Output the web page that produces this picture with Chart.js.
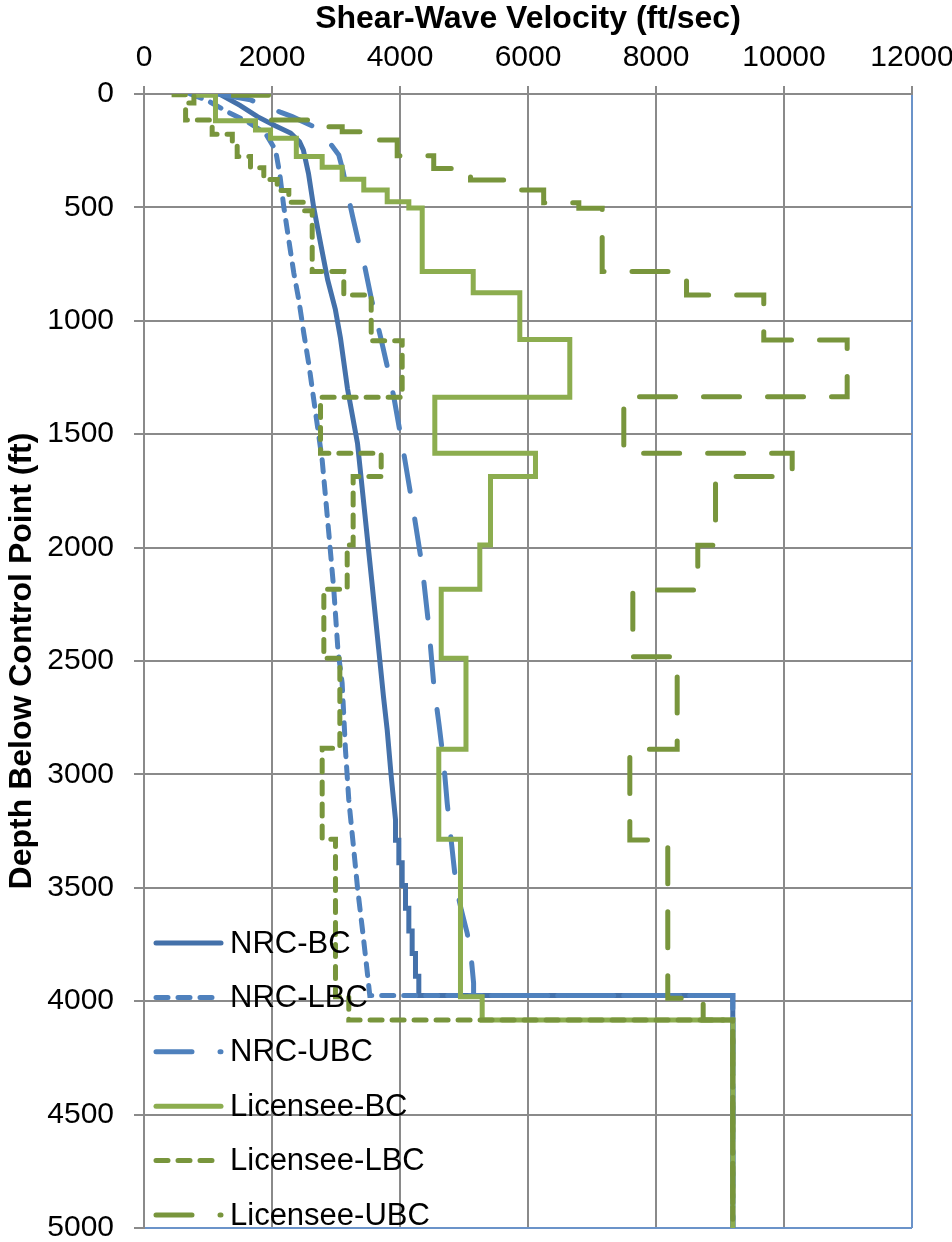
<!DOCTYPE html>
<html>
<head>
<meta charset="utf-8">
<script src="https://cdn.jsdelivr.net/npm/chart.js@4.4.1/dist/chart.umd.min.js"></script>
<style>
  html, body { margin: 0; padding: 0; background: #fff; overflow: hidden; }
  #chart { display: block; }
</style>
</head>
<body>
<canvas id="chart" width="952" height="1242"></canvas>
<script>
// ---- data (velocity in ft/sec, depth in ft) ----
const SERIES_NAMES = ['NRC-BC', 'NRC-LBC', 'NRC-UBC', 'Licensee-BC', 'Licensee-LBC', 'Licensee-UBC'];
const DEPTH_MAX = 5000;

// NRC profiles: continuous curves (velocity / depth pairs)
const nrcBcVel   = [1180, 1500, 1773, 2050, 2290, 2430, 2490, 2570, 2650, 2760, 2870, 2990, 3070, 3180, 3336, 3450, 3560, 3650, 3742, 3800, 3860, 3930, 3930, 3982, 3982, 4034, 4034, 4086, 4086, 4138, 4138, 4190, 4190, 4242, 4242, 4294, 4294, 9200, 9200];
const nrcBcDepth = [0, 50, 100, 140, 172, 210, 247, 350, 498, 660, 820, 950, 1076, 1300, 1540, 1850, 2150, 2400, 2658, 2804, 3000, 3201, 3290, 3290, 3390, 3390, 3490, 3490, 3590, 3590, 3690, 3690, 3790, 3790, 3890, 3890, 3975, 3975, 5000];

const nrcLbcVel   = [720, 1000, 1300, 1600, 1898, 2055, 2120, 2184, 2260, 2341, 2419, 2497, 2580, 2653, 2784, 2888, 2966, 3030, 3096, 3148, 3200, 3278, 3340, 3420, 3480, 3528, 9200, 9200];
const nrcLbcDepth = [0, 30, 78, 120, 173, 247, 350, 497, 640, 790, 908, 1055, 1200, 1349, 1614, 1937, 2187, 2450, 2598, 2892, 3113, 3333, 3510, 3700, 3850, 3975, 3975, 5000];

const nrcUbcVel   = [1150, 1664, 2130, 2316, 2653, 2888, 3044, 3110, 3175, 3260, 3356, 3434, 3550, 3695, 3800, 3903, 4059, 4216, 4347, 4450, 4528, 4610, 4684, 4738, 4816, 4880, 4960, 5050, 5110, 5150, 5150, 9200, 9200];
const nrcUbcDepth = [0, 26, 80, 100, 144, 210, 269, 340, 431, 540, 658, 739, 900, 1070, 1200, 1335, 1584, 1849, 2084, 2349, 2605, 2780, 2951, 3128, 3333, 3500, 3600, 3700, 3800, 3920, 3975, 3975, 5000];

// Licensee profiles: layered (top depth of each layer / layer velocity)
const licBcTop = [0, 5, 118, 159, 195, 276, 323, 376, 423, 475, 503, 783, 876, 1082, 1337, 1584, 1687, 1989, 2184, 2488, 2889, 3286, 3980, 4083];
const licBcVel = [840, 1117, 1742, 1977, 2380, 2784, 3096, 3434, 3800, 4138, 4347, 5144, 5872, 6653, 4544, 6117, 5414, 5247, 4644, 5031, 4606, 4945, 5284, 9200];

const licLbcTop = [0, 3, 40, 115, 178, 225, 276, 325, 377, 425, 477, 515, 783, 886, 1088, 1337, 1584, 1687, 1989, 2184, 2488, 2885, 3286, 3980, 4083];
const licLbcVel = [470, 780, 650, 1065, 1380, 1456, 1664, 1872, 2081, 2263, 2497, 2628, 3122, 3550, 4034, 2758, 3706, 3268, 3175, 2810, 3060, 2784, 2992, 3200, 9200];

const licUbcTop = [0, 5, 115, 144, 166, 203, 272, 328, 379, 423, 480, 504, 783, 886, 1085, 1335, 1584, 1687, 1990, 2187, 2481, 2889, 3289, 3987, 4083];
const licUbcVel = [1400, 1950, 2784, 3097, 3540, 3956, 4527, 5102, 5660, 6245, 6794, 7159, 8477, 9684, 10987, 7497, 10128, 8930, 8653, 7638, 8331, 7591, 8184, 8737, 9200];

// ---- styling ----
const FONT = "'Liberation Sans', Arial, sans-serif";
const GRID_GRAY = '#8a8a8a';
const FRAME_BLUE = '#6b93c9';
const NRC_DARK = '#4471aa';
const NRC_BLUE = '#4f81bd';
const LIC_LIGHT = '#8cad4f';
const LIC_OLIVE = '#78953c';

const SHORT_DASH = [12, 10];
const LONG_DASH = [36, 28];

function curvePoints(vels, depths) {
  return vels.map((v, i) => ({ x: v, y: depths[i] }));
}

function layerPoints(tops, vels) {
  const pts = tops.map((d, i) => ({ x: vels[i], y: d }));
  pts.push({ x: vels[vels.length - 1], y: DEPTH_MAX });
  return pts;
}

function makeDataset(i, data, color, dash, stepped) {
  return {
    label: SERIES_NAMES[i],
    data,
    showLine: true,
    stepped: stepped ? 'after' : false,
    borderColor: color,
    backgroundColor: color,
    borderWidth: 5,
    borderDash: dash,
    borderCapStyle: 'round',
    borderJoinStyle: 'miter',
    pointRadius: 0,
    pointHoverRadius: 0,
    fill: false,
    order: SERIES_NAMES.length - 1 - i,
  };
}

const datasets = [
  makeDataset(0, curvePoints(nrcBcVel, nrcBcDepth), NRC_DARK, [], false),
  makeDataset(1, curvePoints(nrcLbcVel, nrcLbcDepth), NRC_BLUE, SHORT_DASH, false),
  makeDataset(2, curvePoints(nrcUbcVel, nrcUbcDepth), NRC_BLUE, LONG_DASH, false),
  makeDataset(3, layerPoints(licBcTop, licBcVel), LIC_LIGHT, [], true),
  makeDataset(4, layerPoints(licLbcTop, licLbcVel), LIC_OLIVE, SHORT_DASH, true),
  makeDataset(5, layerPoints(licUbcTop, licUbcVel), LIC_OLIVE, LONG_DASH, true),
];

// legend sits inside the plot, bottom-left, like the original
const insideLegend = {
  id: 'insideLegend',
  afterDraw(chart) {
    const { ctx, chartArea } = chart;
    const sets = chart.data.datasets;
    const rowGap = 54.4;
    ctx.save();
    ctx.font = `31px ${FONT}`;
    ctx.textBaseline = 'middle';
    ctx.textAlign = 'left';
    sets.forEach((ds, i) => {
      const y = chartArea.bottom - 13 - (sets.length - 1 - i) * rowGap;
      const x0 = chartArea.left + 12;
      ctx.beginPath();
      ctx.strokeStyle = ds.borderColor;
      ctx.lineWidth = ds.borderWidth;
      ctx.lineCap = 'round';
      ctx.setLineDash(ds.borderDash || []);
      ctx.moveTo(x0, y);
      ctx.lineTo(x0 + 65, y);
      ctx.stroke();
      ctx.setLineDash([]);
      ctx.fillStyle = '#000';
      ctx.fillText(ds.label, x0 + 74, y + 1);
    });
    ctx.restore();
  }
};

const plainNumber = v => String(v);

const ctx = document.getElementById('chart').getContext('2d');
new Chart(ctx, {
  type: 'scatter',
  data: { datasets },
  options: {
    responsive: false,
    animation: false,
    layout: { padding: { left: 0, right: 40, top: 0, bottom: 14 } },
    plugins: {
      legend: { display: false },
      tooltip: { enabled: false },
    },
    scales: {
      x: {
        type: 'linear',
        position: 'top',
        min: 0,
        max: 12000,
        ticks: {
          stepSize: 2000,
          color: '#000',
          font: { family: FONT, size: 30 },
          padding: 10,
          maxRotation: 0,
          callback: plainNumber,
        },
        grid: {
          color: c => (c.tick && c.tick.value === 12000 ? FRAME_BLUE : GRID_GRAY),
          lineWidth: 2,
          tickLength: 8,
          tickColor: GRID_GRAY,
          tickWidth: 2,
        },
        border: { color: GRID_GRAY, width: 2 },
        title: {
          display: true,
          text: 'Shear-Wave Velocity (ft/sec)',
          color: '#000',
          font: { family: FONT, size: 32, weight: 'bold' },
          padding: { top: 0, bottom: 0 },
        },
        afterFit: s => {
          s.height = 94;
          s.paddingLeft = 0;
          s.paddingRight = 0;
        },
      },
      y: {
        type: 'linear',
        reverse: true,
        min: 0,
        max: DEPTH_MAX,
        ticks: {
          stepSize: 500,
          color: '#000',
          font: { family: FONT, size: 30 },
          padding: 20,
          callback: plainNumber,
        },
        grid: {
          color: c => (c.tick && c.tick.value === DEPTH_MAX ? FRAME_BLUE : GRID_GRAY),
          lineWidth: 2,
          tickLength: 10,
          tickColor: GRID_GRAY,
          tickWidth: 2,
        },
        border: { color: GRID_GRAY, width: 2 },
        title: {
          display: true,
          text: 'Depth Below Control Point (ft)',
          color: '#000',
          font: { family: FONT, size: 32, weight: 'bold' },
          padding: { top: 3, bottom: 0 },
        },
        afterFit: s => {
          s.width = 144;
          s.paddingTop = 0;
          s.paddingBottom = 0;
        },
      },
    },
  },
  plugins: [insideLegend],
});
</script>
</body>
</html>
